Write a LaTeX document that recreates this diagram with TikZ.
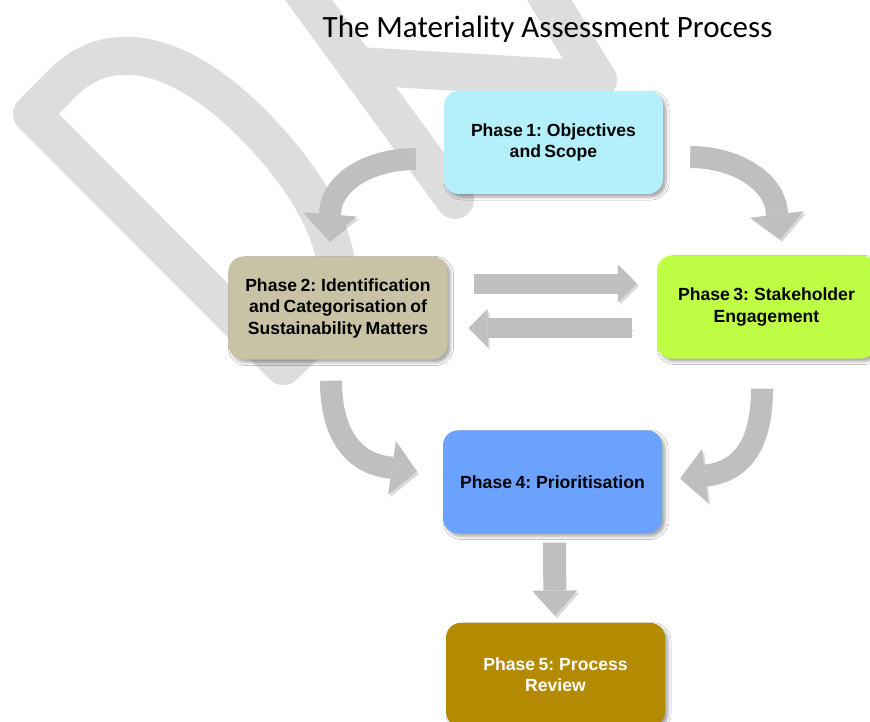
\documentclass[tikz,border=0pt]{standalone}
\usepackage{fontspec}
\setmainfont{Liberation Sans}
\newfontfamily\titlefont{Carlito}
\newfontfamily\phasefont[WordSpace=0.7]{Liberation Sans}
\usetikzlibrary{arrows.meta,positioning,shadows.blur}
\definecolor{wmgray}{HTML}{DDDDDD}
\definecolor{arrgray}{HTML}{BFBFBF}
\definecolor{ph1}{HTML}{B4F0FB}
\definecolor{ph2}{HTML}{C9C3A5}
\definecolor{ph3}{HTML}{BEFF45}
\definecolor{ph4}{HTML}{6BA2FF}
\definecolor{ph5}{HTML}{B38A00}

\begin{document}
\begin{tikzpicture}[
  x=1pt, y=-1pt,
  phase/.style={rounded corners=15pt, minimum width=219pt, minimum height=103pt, align=center,
    font=\phasefont\fontsize{17.6}{21.5}\selectfont\bfseries,
    blur shadow={shadow xshift=3pt, shadow yshift=-3pt, shadow blur radius=3pt, shadow opacity=35}},
  arr/.style={draw=arrgray, preaction={draw=black, opacity=.15, transform canvas={shift={(2pt,-2.5pt)}}}},
  bendarr/.style={arr, line width=22pt, -{Triangle[length=25pt, width=54pt, line width=0pt]}},
  flatarr/.style={arr, line width=20pt, -{Triangle[length=19pt, width=38pt, line width=0pt]}},
  downarr/.style={arr, line width=23pt, -{Triangle[length=25pt, width=45pt, line width=0pt]}},
  wmark/.style={draw=wmgray, line width=38pt, line join=round, line cap=round}
]
\clip (0,0) rectangle (870,722);
\fill[white] (0,0) rectangle (870,722);

\draw[wmark] (283.3,366.1) -- (32,114) -- (63.6,81.9)
  .. controls (113.7,33.1) and (185.5,55.1) .. (255.3,126.7)
  .. controls (332.1,205.5) and (362.8,288.7) .. (312.7,337.5) -- cycle;
\draw[wmark] (272,-50) -- (455,200);
\draw[wmark] (357,66) -- (598,80) -- (525,-40);

\node[font=\titlefont\fontsize{31}{37}\selectfont, anchor=base] (title) at (547.5,38) {The Materiality Assessment Process};

\node[phase, fill=ph1] (p1) at (553.5,142.5) {Phase 1: Objectives\\and Scope};
\node[phase, fill=ph2] (p2) at (338,308) {Phase 2: Identification\\and Categorisation of\\Sustainability Matters};
\node[phase, fill=ph3] (p3) at (766.5,307) {Phase 3: Stakeholder\\Engagement};
\node[phase, fill=ph4, below=236pt of p1, xshift=-1pt] (p4) {Phase 4: Prioritisation};
\node[phase, fill=ph5, text=white, minimum height=104pt, below=89pt of p4, xshift=3pt] (p5) {Phase 5: Process\\Review};

\draw[bendarr] ([shift={(-28,16.5)}]p1.west) .. controls +(-44,0) and +(1,-34) .. ([shift={(-8,-42)}]p2.north) -- ([shift={(-10,-17)}]p2.north);
\draw[bendarr] ([shift={(27,14.5)}]p1.east) .. controls +(44,0) and +(-1,-34) .. ([shift={(10.5,-41)}]p3.north) -- ([shift={(13.5,-16)}]p3.north);
\draw[flatarr] ([shift={(26,-24.5)}]p2.east) -- ([shift={(-20,-23.5)}]p3.west);
\draw[flatarr] ([shift={(-25,21)}]p3.west) -- ([shift={(21,20)}]p2.east);
\draw[bendarr] ([shift={(-7,21)}]p2.south) .. controls +(0,49) and +(-39,-5) .. ([shift={(-54,-14.5)}]p4.west) -- ([shift={(-26,-10.5)}]p4.west);
\draw[bendarr] ([shift={(-4.5,30)}]p3.south) .. controls +(0,51) and +(38,-5) .. ([shift={(45,-6.5)}]p4.east) -- ([shift={(18,-3.5)}]p4.east);
\draw[downarr] ([shift={(2,9)}]p4.south) -- ([shift={(-0.5,-7)}]p5.north);
\end{tikzpicture}
\end{document}
